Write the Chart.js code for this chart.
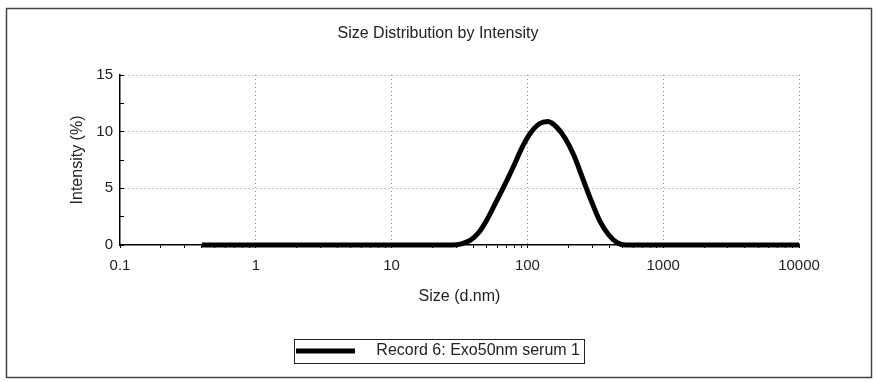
<!DOCTYPE html>
<html>
<head>
<meta charset="utf-8">
<script src="https://cdn.jsdelivr.net/npm/chart.js@4/dist/chart.umd.min.js"></script>
<style>
  body { margin: 0; background: #fff; }
  #wrap { width: 876px; height: 382px; }
</style>
</head>
<body>
<div id="wrap"><canvas id="dlsChart" width="876" height="382"></canvas></div>
<script>
// size bins (d.nm) and intensity (%)
const sizes = [0.4, 0.4632, 0.5365, 0.6213, 0.7195, 0.8332, 0.9649, 1.117, 1.294, 1.499,
  1.736, 2.01, 2.328, 2.696, 3.122, 3.615, 4.187, 4.849, 5.615, 6.503,
  7.531, 8.721, 10.1, 11.7, 13.54, 15.69, 18.17, 21.04, 24.36, 28.21,
  32.67, 37.84, 43.82, 50.75, 58.77, 68.06, 78.82, 91.28, 105.7, 122.4,
  141.8, 164.2, 190.1, 220.2, 255, 295.3, 342, 396.1, 458.7, 531.2,
  615.1, 712.4, 825, 955.4, 1106, 1281, 1484, 1718, 1990, 2305,
  2669, 3091, 3580, 4145, 4801, 5560, 6439, 7456, 8635, 10000];
const intensity = [0, 0, 0, 0, 0, 0, 0, 0, 0, 0,
  0, 0, 0, 0, 0, 0, 0, 0, 0, 0,
  0, 0, 0, 0, 0, 0, 0, 0, 0, 0,
  0.1, 0.4, 1.1, 2.3, 3.8, 5.3, 6.9, 8.6, 9.9, 10.7,
  10.9, 10.4, 9.4, 7.9, 5.9, 3.9, 2.1, 0.9, 0.2, 0,
  0, 0, 0, 0, 0, 0, 0, 0, 0, 0,
  0, 0, 0, 0, 0, 0, 0, 0, 0, 0];

const seriesName = 'Record 6: Exo50nm serum 1';
const chartTitle = 'Size Distribution by Intensity';
const xTitle = 'Size (d.nm)';
const yTitle = 'Intensity (%)';
const decades = [0.1, 1, 10, 100, 1000, 10000];
const xTickLabels = ['0.1', '1', '10', '100', '1000', '10000'];
const yTickLabels = ['0', '5', '10', '15'];

// minor ticks 2..9 inside every decade
let xTickValues = [];
for (let i = 0; i < decades.length; i++) {
  xTickValues.push(decades[i]);
  if (i < decades.length - 1) {
    for (let m = 2; m <= 9; m++) xTickValues.push(m * decades[i]);
  }
}

function decadeIndex(v) {
  return decades.findIndex(d => Math.abs(v - d) / d < 1e-6);
}

const points = sizes.map((s, i) => ({x: s, y: intensity[i]}));

const frame = {
  id: 'frame',
  beforeDraw(chart) {
    const ctx = chart.ctx;
    ctx.save();
    ctx.fillStyle = '#fff';
    ctx.fillRect(0, 0, chart.width, chart.height);
    ctx.strokeStyle = '#444';
    ctx.lineWidth = 1.5;
    ctx.strokeRect(6.5, 8.5, 865, 369);
    ctx.restore();
  },
  afterDraw(chart) {
    const box = chart.legend.legendHitBoxes[0];
    if (!box) return;
    const ctx = chart.ctx;
    ctx.save();
    ctx.strokeStyle = '#222';
    ctx.lineWidth = 1;
    ctx.strokeRect(Math.round(box.left - 2) + 0.5, Math.round(box.top - 4) + 0.5,
      Math.round(box.width + 6), Math.round(box.height + 8));
    ctx.restore();
  }
};

Chart.defaults.font.family = '"Liberation Sans", Arial, sans-serif';
Chart.defaults.color = '#222';

new Chart(document.getElementById('dlsChart'), {
  type: 'line',
  data: {
    datasets: [{
      label: seriesName,
      data: points,
      borderColor: '#000',
      backgroundColor: '#000',
      borderWidth: 5,
      pointRadius: 0,
      cubicInterpolationMode: 'monotone',
      clip: false,
      fill: false
    }]
  },
  options: {
    responsive: false,
    animation: false,
    devicePixelRatio: 1,
    layout: { padding: { left: 10, right: 10, top: 0, bottom: 13 } },
    plugins: {
      title: {
        display: true,
        text: chartTitle,
        font: { size: 16, weight: 'normal' },
        padding: { top: 24, bottom: 31.8 }
      },
      legend: {
        position: 'bottom',
        labels: {
          boxWidth: 59,
          boxHeight: 5,
          font: { size: 16 },
          padding: 10,
          generateLabels(chart) {
            const items = Chart.defaults.plugins.legend.labels.generateLabels(chart);
            items.forEach(it => { it.lineWidth = 0; it.text = '   ' + it.text; });
            return items;
          }
        }
      },
      tooltip: { enabled: false }
    },
    scales: {
      x: {
        type: 'logarithmic',
        min: 0.1,
        max: 10000,
        afterBuildTicks(scale) {
          scale.ticks = xTickValues.map(v => ({value: v}));
        },
        afterFit(scale) { scale.height = 88; },
        ticks: {
          autoSkip: false,
          maxRotation: 0,
          padding: 9,
          font: { size: 15 },
          callback(value) {
            const i = decadeIndex(value);
            return i >= 0 ? xTickLabels[i] : '';
          }
        },
        grid: {
          color: ctx => (ctx.tick && decadeIndex(ctx.tick.value) > 0) ? '#8a8a8a' : 'rgba(0,0,0,0)',
          tickColor: '#000',
          tickLength: 3,
          lineWidth: 1
        },
        border: { display: true, color: '#000', width: 1.5, dash: [1, 3] },
        title: {
          display: true,
          text: xTitle,
          font: { size: 16 },
          padding: { top: 0, bottom: 26.4 }
        }
      },
      y: {
        type: 'linear',
        min: 0,
        max: 15,
        afterFit(scale) { scale.width = 110; },
        ticks: {
          stepSize: 2.5,
          autoSkip: false,
          padding: 11,
          font: { size: 15 },
          callback(value) {
            return value % 5 === 0 ? yTickLabels[value / 5] : '';
          }
        },
        grid: {
          color: ctx => (ctx.tick && ctx.tick.value > 0 && ctx.tick.value % 5 === 0) ? '#8a8a8a' : 'rgba(0,0,0,0)',
          tickColor: '#000',
          tickLength: -4,
          lineWidth: 1
        },
        border: { display: true, color: '#000', width: 1.5, dash: [1, 3] },
        title: {
          display: true,
          text: yTitle,
          font: { size: 16 },
          padding: { top: 58.4, bottom: 0 }
        }
      },
      y2: {
        type: 'linear',
        position: 'right',
        display: true,
        afterFit(scale) { scale.width = 67; },
        grid: { display: false },
        border: { display: false },
        ticks: { display: false }
      }
    }
  },
  plugins: [frame]
});
</script>
</body>
</html>
